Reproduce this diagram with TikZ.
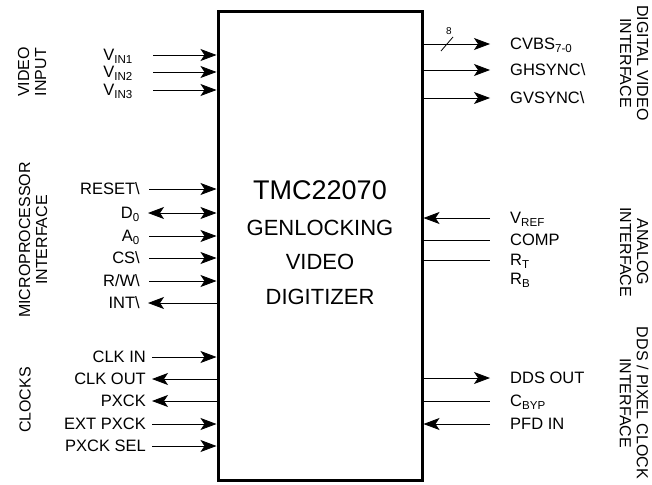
\documentclass[tikz,border=0pt]{standalone}
\usepackage{fontspec}
\setmainfont{Liberation Sans}
\usetikzlibrary{arrows.meta, positioning}

\begin{document}
\begin{tikzpicture}[
  x=1pt, y=-1pt,
  font=\fontsize{16.5}{18}\selectfont,
  chip/.style={rectangle, draw, line width=3pt, minimum width=204pt, minimum height=468pt, inner sep=0pt},
  chiptext/.style={font=\fontsize{22}{24}\selectfont},
  pinL/.style={anchor=east, inner sep=0pt, text height=11.5pt, text depth=0pt},
  pinR/.style={anchor=west, inner sep=0pt, text height=11.5pt, text depth=0pt},
  group/.style={align=center, font=\fontsize{16}{17}\selectfont},
  wire/.style={line width=0.8pt},
  arrow/.style={wire, -{Stealth[length=16pt, width=12pt, inset=4pt]}},
  dblarrow/.style={wire, {Stealth[length=16pt, width=12pt, inset=4pt]}-{Stealth[length=16pt, width=12pt, inset=4pt]}}
]
\useasboundingbox (0,0) rectangle (652,484);

% CHIP
\node[chip] (chip) at (320,246) {};
\node[font=\fontsize{27}{29}\selectfont] (part) at (320,190) {TMC22070};
\node[chiptext] (gen) at (320,228) {GENLOCKING};
\node[chiptext] (vid) at (320,262) {VIDEO};
\node[chiptext] (dig) at (320,297) {DIGITIZER};

% GROUPS
\node[group, rotate=90] (gvideo) at (32,72) {VIDEO\\INPUT};
\node[group, rotate=90] (gmicro) at (33,240) {MICROPROCESSOR\\INTERFACE};
\node[group, rotate=90] (gclock) at (25,400) {CLOCKS};
\node[group, rotate=-90] (gdigital) at (634,63) {DIGITAL VIDEO\\INTERFACE};
\node[group, rotate=-90] (ganalog) at (634,252) {ANALOG\\INTERFACE};
\node[group, rotate=-90] (gdds) at (634,403) {DDS / PIXEL CLOCK\\INTERFACE};

% LEFT PINS
\node[pinL] (vin1) at (133,55) {V\textsubscript{IN1}};
\node[pinL] (vin2) at (133,72) {V\textsubscript{IN2}};
\node[pinL] (vin3) at (133,90) {V\textsubscript{IN3}};
\node[pinL] (reset) at (140,189) {RESET\textbackslash};
\node[pinL] (d0) at (140,213) {D\textsubscript{0}};
\node[pinL] (a0) at (140,236) {A\textsubscript{0}};
\node[pinL] (cs) at (140,258) {CS\textbackslash};
\node[pinL] (rw) at (140,281) {R/W\textbackslash};
\node[pinL] (int) at (140,303) {INT\textbackslash};
\node[pinL] (clkin) at (146,357) {CLK IN};
\node[pinL] (clkout) at (146,379) {CLK OUT};
\node[pinL] (pxck) at (146,401) {PXCK};
\node[pinL] (extpxck) at (146,424) {EXT PXCK};
\node[pinL] (pxcksel) at (146,446) {PXCK SEL};

% RIGHT PINS
\node[pinR] (cvbs) at (510,44) {CVBS\textsubscript{7-0}};
\node[pinR] (ghsync) at (510,70) {GHSYNC\textbackslash};
\node[pinR] (gvsync) at (510,98) {GVSYNC\textbackslash};
\node[pinR] (vref) at (510,218) {V\textsubscript{REF}};
\node[pinR] (comp) at (510,240) {COMP};
\node[pinR] (rt) at (510,260) {R\textsubscript{T}};
\node[pinR] (rb) at (510,279) {R\textsubscript{B}};
\node[pinR] (ddsout) at (510,378) {DDS OUT};
\node[pinR] (cbyp) at (510,401) {C\textsubscript{BYP}};
\node[pinR] (pfdin) at (510,424) {PFD IN};

% FLOW
\draw[arrow] ([xshift=20pt]vin1.east) -- (vin1 -| chip.west);
\draw[arrow] ([xshift=20pt]vin2.east) -- (vin2 -| chip.west);
\draw[arrow] ([xshift=20pt]vin3.east) -- (vin3 -| chip.west);
\draw[arrow] ([xshift=9pt]reset.east) -- (reset -| chip.west);
\draw[dblarrow] ([xshift=8pt]d0.east) -- (d0 -| chip.west);
\draw[arrow] ([xshift=9pt]a0.east) -- (a0 -| chip.west);
\draw[arrow] ([xshift=9pt]cs.east) -- (cs -| chip.west);
\draw[arrow] ([xshift=9pt]rw.east) -- (rw -| chip.west);
\draw[arrow] (int -| chip.west) -- ([xshift=8pt]int.east);
\draw[arrow] ([xshift=6pt]clkin.east) -- (clkin -| chip.west);
\draw[arrow] (clkout -| chip.west) -- ([xshift=6pt]clkout.east);
\draw[arrow] (pxck -| chip.west) -- ([xshift=6pt]pxck.east);
\draw[arrow] ([xshift=6pt]extpxck.east) -- (extpxck -| chip.west);
\draw[arrow] ([xshift=6pt]pxcksel.east) -- (pxcksel -| chip.west);

\draw[arrow] (cvbs -| chip.east) -- ([xshift=-20pt]cvbs.west);
\draw[arrow] (ghsync -| chip.east) -- ([xshift=-20pt]ghsync.west);
\draw[arrow] (gvsync -| chip.east) -- ([xshift=-20pt]gvsync.west);
\draw[arrow] ([xshift=-20pt]vref.west) -- (vref -| chip.east);
\draw[wire] (comp -| chip.east) -- ([xshift=-20pt]comp.west);
\draw[wire] (rt -| chip.east) -- ([xshift=-20pt]rt.west);
\draw[arrow] (ddsout -| chip.east) -- ([xshift=-20pt]ddsout.west);
\draw[wire] (cbyp -| chip.east) -- ([xshift=-20pt]cbyp.west);
\draw[arrow] ([xshift=-20pt]pfdin.west) -- (pfdin -| chip.east);

% BUS WIDTH
\coordinate (busmark) at (447,44);
\draw[wire] ([shift={(-6pt,-7pt)}]busmark) -- ([shift={(6pt,7pt)}]busmark);
\node[font=\fontsize{10}{11}\selectfont, above=6pt of busmark, xshift=2pt] (buswidth) {8};

\end{tikzpicture}
\end{document}
